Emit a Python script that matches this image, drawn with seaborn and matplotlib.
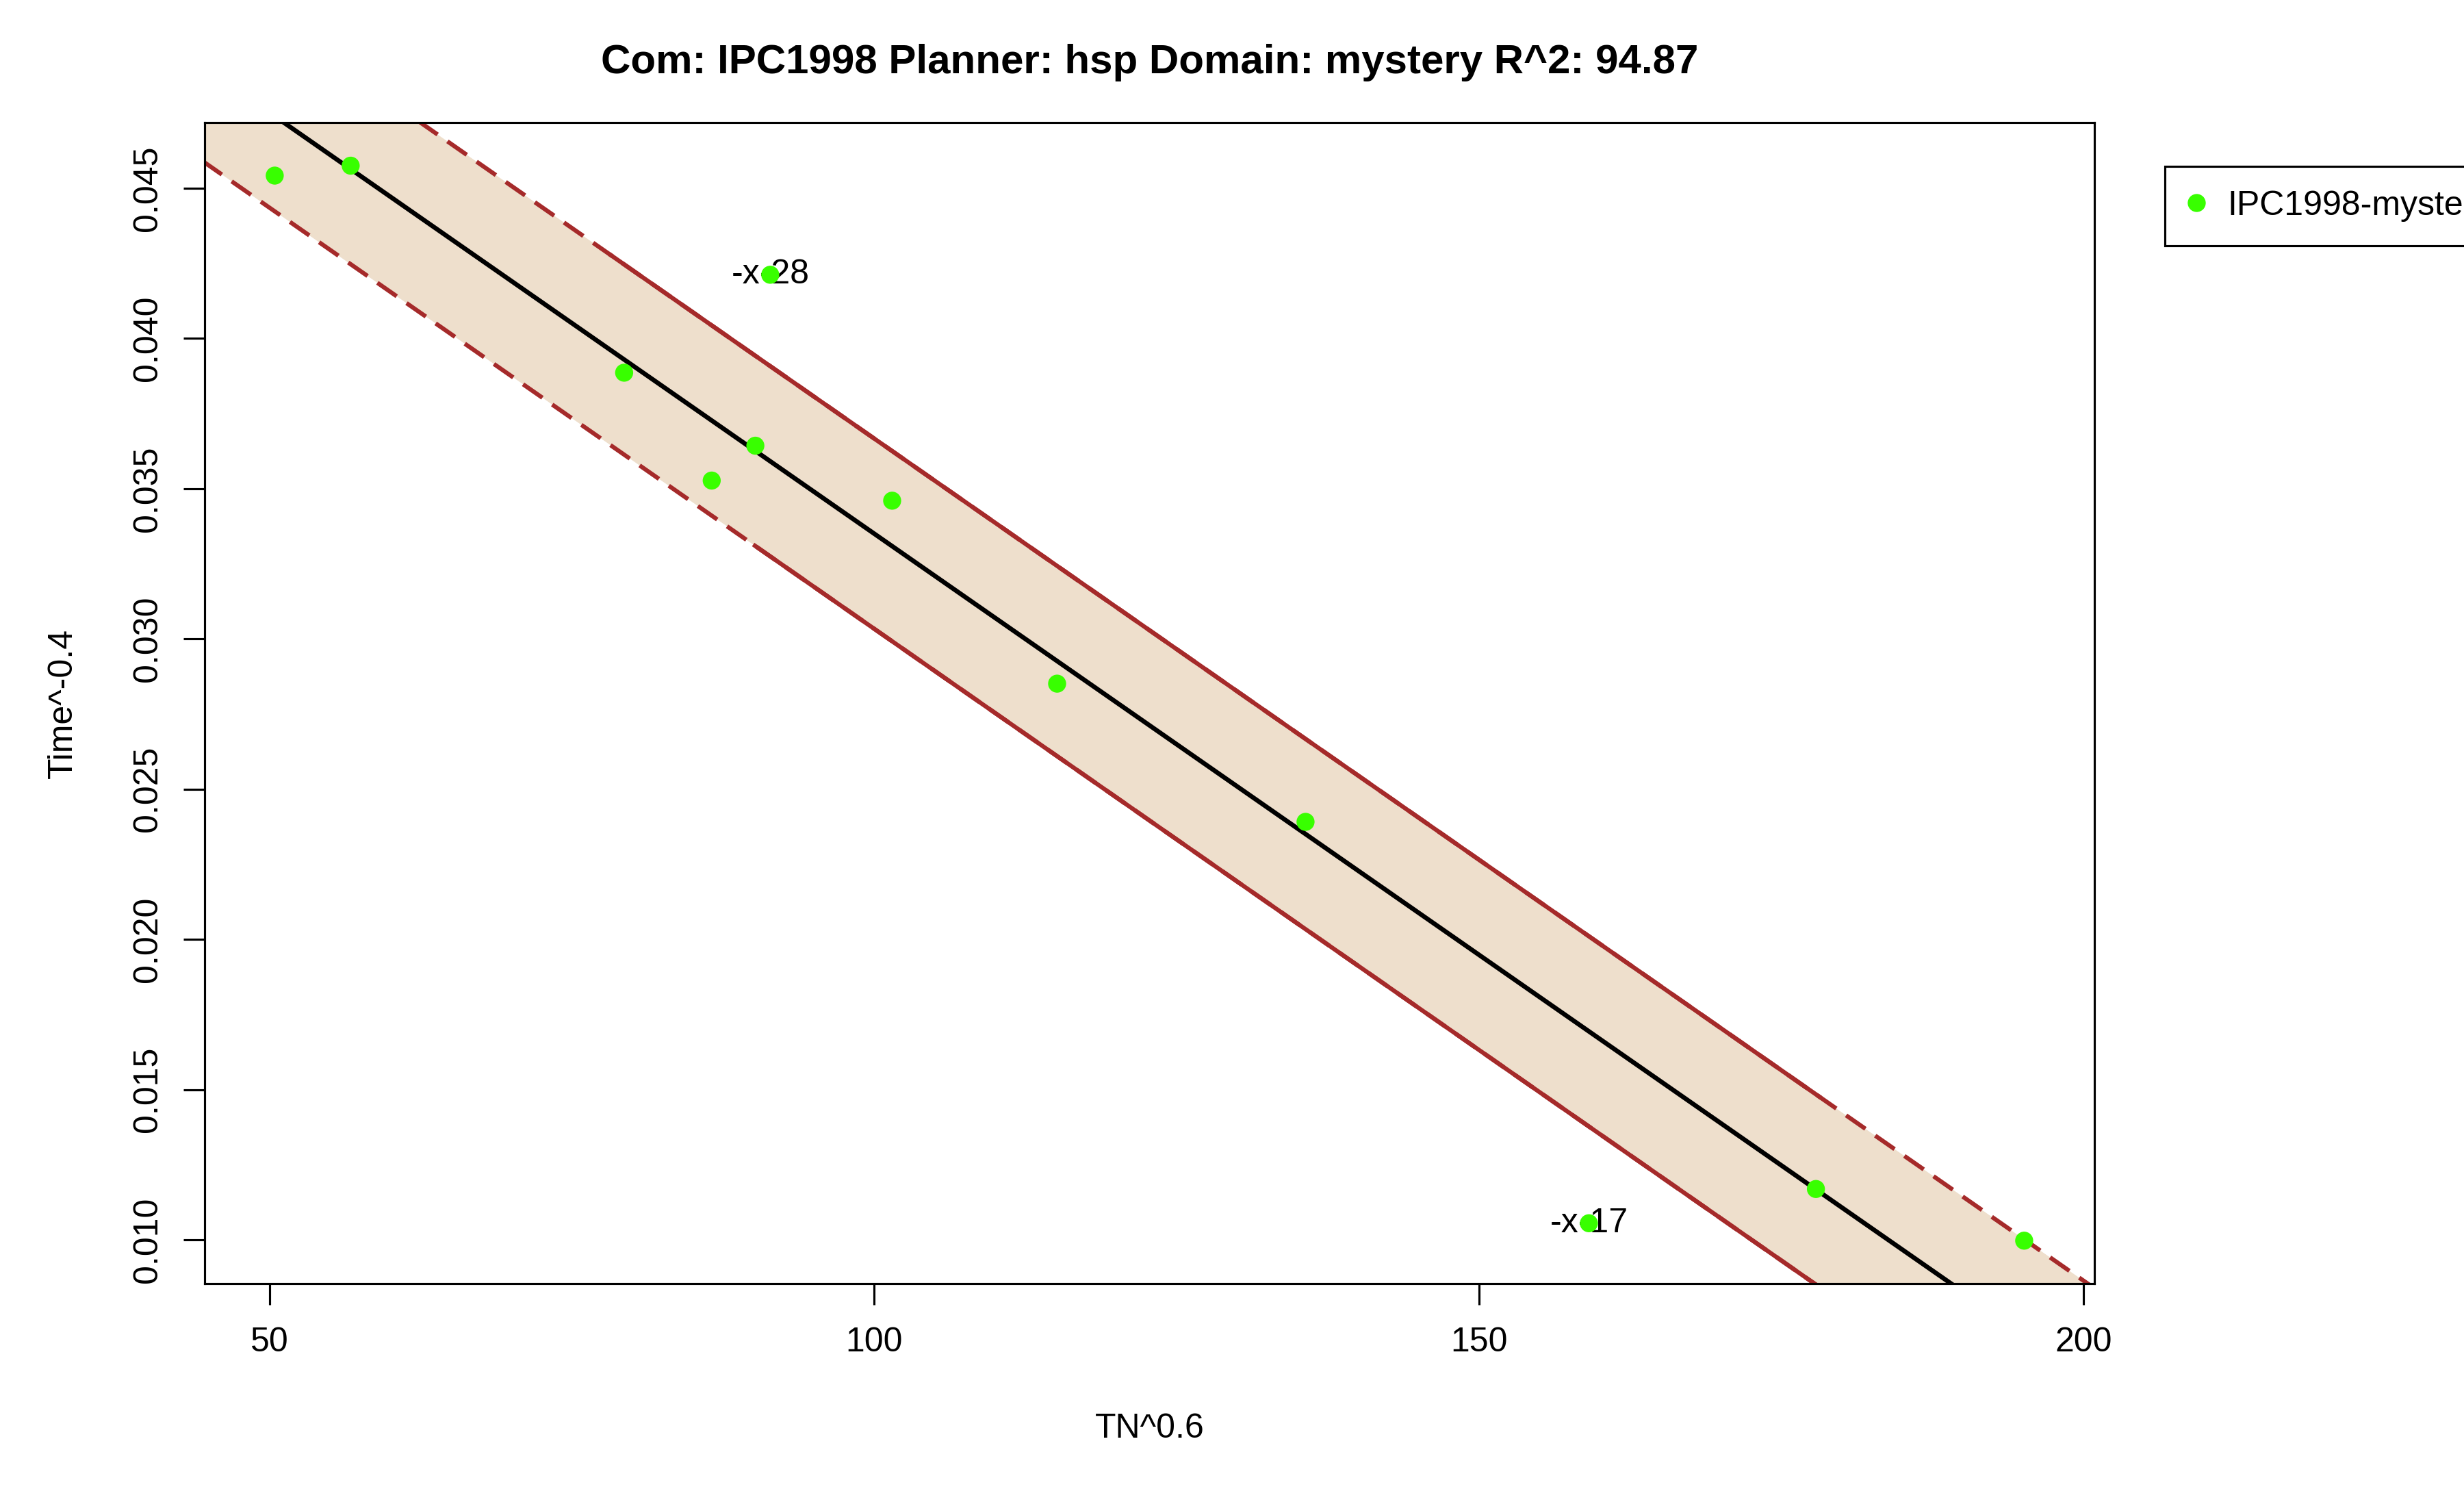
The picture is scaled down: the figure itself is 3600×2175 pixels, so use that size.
import matplotlib
matplotlib.use("Agg")

import matplotlib.pyplot as plt
import numpy as np
import pandas as pd
import seaborn as sns

# data (TN^0.6 vs Time^-0.4)
tn = [50.44, 56.72, 91.41, 79.33, 90.18, 86.57, 101.49, 115.13, 135.67, 159.10, 177.87, 195.09]
time_t = [0.04542, 0.04575, 0.04212, 0.03886, 0.03643, 0.03527, 0.03460, 0.02851,
          0.02391, 0.01055, 0.01169, 0.00997]
outlier_idx = [2, 9]
outlier_labels = ["-x-28", "-x-17"]
series_name = "IPC1998-mystery"
title = "Com: IPC1998 Planner: hsp Domain: mystery R^2: 94.87"
x_ticks = [50, 100, 150, 200]
y_ticks = [0.010, 0.015, 0.020, 0.025, 0.030, 0.035, 0.040, 0.045]

# where the band edges are drawn solid instead of dashed
upper_solid = (78.1, 178.3)
lower_solid = (90.0, 202.0)

FILL = "#EEDFCC"
BAND = "#A52A2A"
POINT = "#38FF00"

sns.set_style("ticks")
plt.rcParams["font.family"] = ["Liberation Sans", "DejaVu Sans"]
plt.rcParams["font.size"] = 12
plt.rcParams["text.color"] = "black"
plt.rcParams["axes.labelcolor"] = "black"

df = pd.DataFrame({"tn": tn, "time": time_t, "series": series_name})

# OLS fit and +/- residual standard error band
x = np.asarray(tn)
y = np.asarray(time_t)
slope, intercept = np.polyfit(x, y, 1)
resid = y - (intercept + slope * x)
sigma = np.sqrt(np.sum(resid ** 2) / (len(x) - 2))

# R-style 4% axis expansion
xpad = (x.max() - x.min()) * 0.04
ypad = (y.max() - y.min()) * 0.04
xlim = (x.min() - xpad, x.max() + xpad)
ylim = (y.min() - ypad, y.max() + ypad)

fig = plt.figure(figsize=(12, 7.25), dpi=300)
ax = fig.add_axes([0.0831, 0.1379, 0.8499 - 0.0831, 0.9176 - 0.1379])

xs = np.linspace(xlim[0] - 5, xlim[1] + 5, 200)
fit = intercept + slope * xs
ax.fill_between(xs, fit - sigma, fit + sigma, color=FILL, linewidth=0, zorder=1)

dash = (0, (5.5, 2.8))
ax.plot(xs, fit + sigma, color=BAND, lw=1.5, linestyle=dash, zorder=2)
ax.plot(xs, fit - sigma, color=BAND, lw=1.5, linestyle=dash, zorder=2)
for (lo, hi), sign in ((upper_solid, 1), (lower_solid, -1)):
    seg = np.linspace(lo, hi, 50)
    ax.plot(seg, intercept + slope * seg + sign * sigma, color=BAND, lw=1.5,
            solid_capstyle="butt", zorder=2)

sns.lineplot(x=xs, y=fit, color="black", lw=1.6, ax=ax, zorder=3)

for i, lab in zip(outlier_idx, outlier_labels):
    ax.text(tn[i], time_t[i], lab, ha="center", va="center", fontsize=12,
            color="black", zorder=4)

sns.scatterplot(data=df, x="tn", y="time", hue="series", palette=[POINT], s=40,
                linewidth=0, ax=ax, zorder=5)

ax.set_xlim(xlim)
ax.set_ylim(ylim)
ax.set_xticks(x_ticks)
ax.set_yticks(y_ticks)
ax.set_yticklabels([f"{v:.3f}" for v in y_ticks], rotation=90, va="center")
ax.tick_params(axis="both", direction="out", length=7.4, width=0.75, labelsize=12,
               color="black", labelcolor="black")
ax.tick_params(axis="x", pad=7.7)
ax.tick_params(axis="y", pad=7.0)
for sp in ax.spines.values():
    sp.set_visible(True)
    sp.set_linewidth(0.75)
    sp.set_color("black")

ax.set_xlabel("TN^0.6", fontsize=12, va="center", color="black")
ax.set_ylabel("Time^-0.4", fontsize=12, va="center", color="black")
ax.xaxis.set_label_coords(0.5, -0.125)
ax.yaxis.set_label_coords(-0.0751, 0.5)

ax.text(0.5, 1.0515, title, transform=ax.transAxes, ha="center", va="center",
        fontsize=14.4, fontweight="bold", color="black")

handles, labels = ax.get_legend_handles_labels()
leg = ax.legend(handles, labels, loc="upper left", bbox_to_anchor=(1.0375, 0.9626),
                borderaxespad=0, fontsize=12, frameon=True, fancybox=False,
                framealpha=1, edgecolor="black", handlelength=0.43,
                handletextpad=0.7, borderpad=0.7, markerscale=1.0)
leg.get_frame().set_linewidth(0.75)
for t in leg.get_texts():
    t.set_color("black")

fig.savefig("out.png", dpi=300)
plt.close(fig)
